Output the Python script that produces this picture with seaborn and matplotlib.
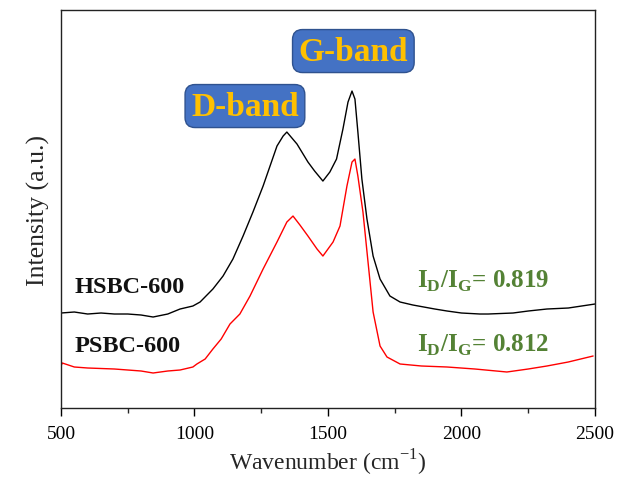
import matplotlib
matplotlib.use("Agg")
import matplotlib.pyplot as plt
import seaborn as sns
import pandas as pd

# Raman spectra (wavenumber in cm^-1, intensity in arbitrary units, offset stacked)
hsbc_wn = [500, 550, 600, 650, 700, 750, 800, 845, 900, 946, 994, 1021, 1069,
           1107, 1144, 1182, 1219, 1257, 1283, 1309, 1332, 1346, 1384, 1425,
           1450, 1481, 1507, 1532, 1556, 1575, 1590, 1601, 1612, 1627, 1646,
           1669, 1695, 1732, 1770, 1818, 1900, 1946, 2000, 2069, 2100, 2193,
           2250, 2320, 2400, 2450, 2500]
hsbc_int = [95, 96, 94, 95, 94, 94, 93, 91, 94, 99, 102, 106, 119,
            132, 149, 172, 196, 222, 242, 262, 272, 276, 264, 246,
            237, 227, 236, 249, 279, 306, 317, 309, 276, 229, 189,
            152, 129, 112, 106, 103, 99, 97, 95, 94, 94, 95,
            97, 99, 100, 102, 104]

psbc_wn = [500, 505, 550, 600, 700, 800, 845, 900, 946, 994, 1009, 1040, 1069,
           1100, 1133, 1170, 1208, 1257, 1309, 1346, 1369, 1395, 1425, 1459,
           1481, 1519, 1545, 1571, 1590, 1601, 1612, 1631, 1650, 1669, 1695,
           1721, 1770, 1850, 1946, 2050, 2170, 2250, 2320, 2400, 2493]
psbc_int = [42, 45, 41, 40, 39, 37, 35, 37, 38, 41, 44, 49, 59,
            69, 84, 94, 112, 139, 166, 186, 192, 183, 172, 159,
            152, 166, 182, 222, 246, 249, 232, 196, 146, 96, 62,
            51, 44, 42, 41, 39, 36, 39, 42, 46, 52]

series_names = ["HSBC-600", "PSBC-600"]
ratio_labels = ["0.819", "0.812"]

df = pd.concat([
    pd.DataFrame({"wn": hsbc_wn, "I": hsbc_int, "sample": series_names[0]}),
    pd.DataFrame({"wn": psbc_wn, "I": psbc_int, "sample": series_names[1]}),
])

sns.set_style("ticks")
plt.rcParams["font.family"] = ["Liberation Serif", "DejaVu Serif"]
plt.rcParams["mathtext.fontset"] = "custom"
plt.rcParams["mathtext.rm"] = "Liberation Serif"
plt.rcParams["mathtext.bf"] = "Liberation Serif:bold"

fig = plt.figure(figsize=(6.19, 4.81), dpi=100)
ax = fig.add_axes([0.0985, 0.1497, 0.8627, 0.8273])

sns.lineplot(data=df, x="wn", y="I", hue="sample",
             palette={"HSBC-600": "black", "PSBC-600": "#ff0000"},
             linewidth=1.0, legend=False, ax=ax, sort=True, estimator=None)

ax.set_xlim(500, 2500)
ax.set_ylim(0, 398)
ax.set_xticks([500, 1000, 1500, 2000, 2500])
ax.set_xticks([750, 1250, 1750, 2250], minor=True)
ax.set_yticks([])
ax.tick_params(axis="x", which="major", direction="out", length=6, width=1,
               labelsize=14, pad=6, colors="black")
ax.tick_params(axis="x", which="minor", direction="out", length=3.5, width=1)
for sp in ax.spines.values():
    sp.set_visible(True)
    sp.set_linewidth(1.0)
    sp.set_color("#222222")

ax.set_xlabel("Wavenumber (cm$^{-1}$)", fontsize=17, labelpad=4)
ax.set_ylabel("Intensity (a.u.)", fontsize=18.5, labelpad=8)

# sample names
ax.text(552, 116, series_names[0], fontsize=17.5, fontweight="bold",
        color="#111111", va="baseline")
ax.text(552, 57, series_names[1], fontsize=17.5, fontweight="bold",
        color="#111111", va="baseline")

# intensity ratios
green = "#548235"
for yb, lab in zip([121, 57], ratio_labels):
    ax.text(1833, yb, r"I$_{\mathbf{D}}$/I$_{\mathbf{G}}$= " + lab,
            fontsize=18, fontweight="bold", color=green, va="baseline")

# band callouts
box = dict(boxstyle="round,pad=0.18,rounding_size=0.3", fc="#4472C4",
           ec="#2F528F", lw=1.0)
ax.text(1189, 302, "D-band", fontsize=24, fontweight="bold", color="#FFC000",
        ha="center", va="center", bbox=box)
ax.text(1595, 357, "G-band", fontsize=24, fontweight="bold", color="#FFC000",
        ha="center", va="center", bbox=box)

fig.savefig("out.png", dpi=100)
